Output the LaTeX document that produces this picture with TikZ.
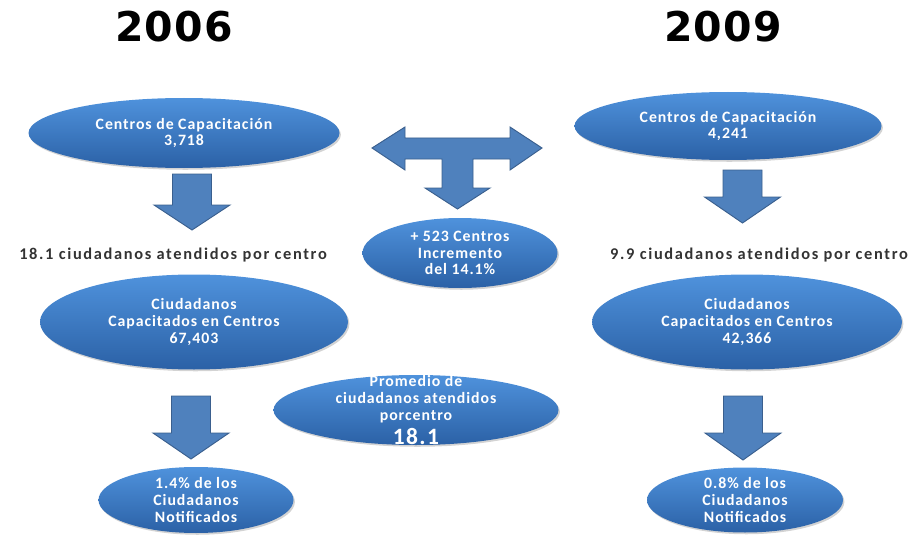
\documentclass[tikz,border=0pt]{standalone}
\usepackage{fontspec}
\setmainfont{Carlito}
\newfontfamily\bubblefont{Carlito}[LetterSpace=6]
\newfontfamily\notefont{Carlito}[LetterSpace=10]
\newfontfamily\yearfont{DejaVu Sans}[LetterSpace=3]
\usetikzlibrary{
    calc,
    shapes.geometric,
    shadows
}
\definecolor{BubbleTop}{HTML}{4F92DC}
\definecolor{BubbleMid}{HTML}{3D7CC9}
\definecolor{BubbleBottom}{HTML}{2B61A6}
\definecolor{ArrowFill}{HTML}{4F81BD}
\definecolor{ArrowLine}{HTML}{3A5F8E}
\tikzset{
    bubble/.style={
        ellipse, inner sep=0pt,
        top color=BubbleTop, middle color=BubbleMid, bottom color=BubbleBottom,
        drop shadow={shadow xshift=1.2pt, shadow yshift=-1.5pt, opacity=0.35}
    },
    bubbletext/.style={text=white, align=center, inner sep=0pt,
        font=\bubblefont\bfseries\fontsize{13.5}{14.4}\selectfont},
    blockarrow/.style={fill=ArrowFill, draw=ArrowLine, line width=0.8pt},
    note/.style={text=black!80, inner sep=0pt,
        font=\notefont\bfseries\fontsize{14}{16}\selectfont},
    year/.style={inner sep=0pt, font=\yearfont\bfseries\fontsize{35}{35}\selectfont}
}
% down block arrow: centre x, top, head top, tip
\newcommand{\blockDown}[4]{%
    \draw[blockarrow] (#1-19.5,#2) -- (#1+19.5,#2) -- (#1+19.5,#3) -- (#1+38,#3)
        -- (#1,#4) -- (#1-38,#3) -- (#1-19.5,#3) -- cycle;}

\begin{document}
\begin{tikzpicture}[x=0.03cm, y=-0.03cm]
      \useasboundingbox (0,0) rectangle (914,535);
      % years
      \node[year] (yA) at (174,27) {2006};
      \node[year] (yB) at (723,27) {2009};
      % 2006 column
      \node[bubble, minimum width=311*0.03cm, minimum height=70*0.03cm] (cA) at (184,133) {};
      \node[bubbletext] (cAt) at (cA) {Centros de Capacitación\\3,718};
      \blockDown{192}{174}{205}{230}
      \node[note] (nA) at (173,255) {18.1 ciudadanos atendidos por centro};
      \node[bubble, minimum width=308*0.03cm, minimum height=95*0.03cm] (pA) at (194,322) {};
      \node[bubbletext] (pAt) at (pA) {Ciudadanos\\Capacitados en Centros\\67,403};
      \blockDown{191}{396}{433}{459}
      \node[bubble, minimum width=195*0.03cm, minimum height=66*0.03cm] (fA) at (196,500) {};
      \node[bubbletext] (fAt) at (fA) {1.4\% de los\\Ciudadanos\\Notificados};
      % 2009 column
      \node[bubble, minimum width=307*0.03cm, minimum height=68*0.03cm] (cB) at (728,126) {};
      \node[bubbletext] (cBt) at (cB) {Centros de Capacitación\\4,241};
      \blockDown{742.5}{170}{197}{223}
      \node[note] (nB) at (759,255) {9.9 ciudadanos atendidos por centro};
      \node[bubble, minimum width=310*0.03cm, minimum height=95*0.03cm] (pB) at (747,322) {};
      \node[bubbletext] (pBt) at (pB) {Ciudadanos\\Capacitados en Centros\\42,366};
      \blockDown{743}{396}{433}{460}
      \node[bubble, minimum width=196*0.03cm, minimum height=65*0.03cm] (fB) at (745,500) {};
      \node[bubbletext] (fBt) at (fB) {0.8\% de los\\Ciudadanos\\Notificados};
      % middle
      \draw[blockarrow] (372,148) -- (405,127) -- (405,138) -- (510,138) -- (510,127)
          -- (542,148) -- (510,170) -- (510,159) -- (473,159) -- (473,188) -- (490,188)
          -- (457.5,209) -- (425,188) -- (442,188) -- (442,159) -- (405,159) -- (405,170) -- cycle;
      \node[bubble, minimum width=195*0.03cm, minimum height=70*0.03cm] (inc) at (460,253) {};
      \node[bubbletext] (inct) at (inc) {+ 523 Centros\\Incremento\\del 14.1\%};
      \node[bubble, minimum width=285*0.03cm, minimum height=70*0.03cm] (avg) at (416,410) {};
      \node[bubbletext] (avgt) at (avg) {Promedio de\\ciudadanos atendidos\\porcentro\\[3pt]{\fontsize{20}{20}\selectfont 18.1}};
\end{tikzpicture}
\end{document}
